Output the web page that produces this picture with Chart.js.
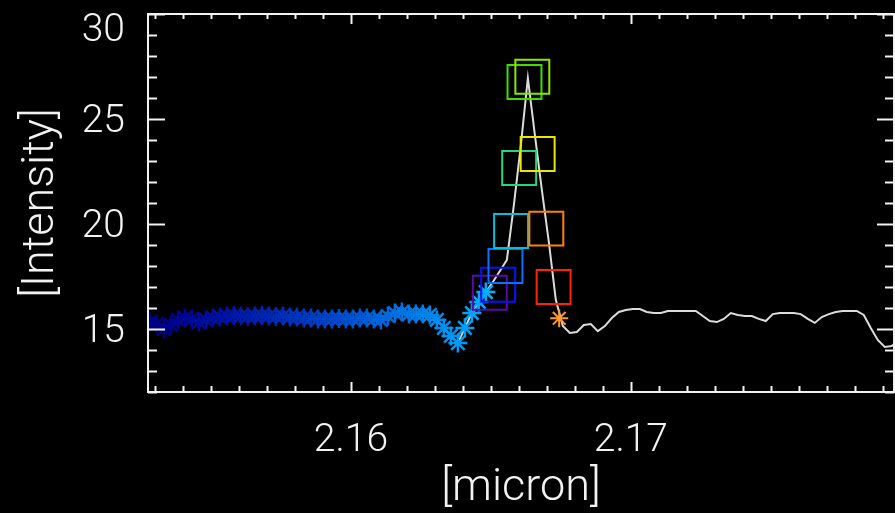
<!DOCTYPE html>
<html>
<head>
<meta charset="utf-8">
<script src="https://cdn.jsdelivr.net/npm/chart.js@4.4.1/dist/chart.umd.min.js"></script>
<style>
  html, body { margin: 0; padding: 0; background: #000; }
  canvas { display: block; }
</style>
</head>
<body>
<canvas id="spec" width="895" height="513"></canvas>
<script>
// spectrum samples
const wavelength = [
  2.15282, 2.15307, 2.15332, 2.15357, 2.15382, 2.15407, 2.15432, 2.15457, 2.15482, 2.15507,
  2.15532, 2.15557, 2.15582, 2.15607, 2.15632, 2.15657, 2.15682, 2.15707, 2.15732, 2.15757,
  2.15782, 2.15807, 2.15832, 2.15857, 2.15882, 2.15907, 2.15932, 2.15957, 2.15982, 2.16007,
  2.16032, 2.16057, 2.16082, 2.16107, 2.16132, 2.16157, 2.16182, 2.16207, 2.16232, 2.16257,
  2.16282, 2.16307, 2.16332, 2.16357, 2.16382, 2.16407, 2.16432, 2.16457, 2.16482, 2.16507,
  2.16532, 2.16557, 2.16582, 2.16607, 2.16632, 2.16657, 2.16682, 2.16707, 2.16732, 2.16757,
  2.16782, 2.16807, 2.16832, 2.16857, 2.16882, 2.16907, 2.16932, 2.16957, 2.16982, 2.17007,
  2.17032, 2.17057, 2.17082, 2.17107, 2.17132, 2.17157, 2.17182, 2.17207, 2.17232, 2.17257,
  2.17282, 2.17307, 2.17332, 2.17357, 2.17382, 2.17407, 2.17432, 2.17457, 2.17482, 2.17507,
  2.17532, 2.17557, 2.17582, 2.17607, 2.17632, 2.17657, 2.17682, 2.17707, 2.17732, 2.17757,
  2.17782, 2.17807, 2.17832, 2.17857, 2.17882, 2.17907, 2.17932, 2.17957
];
const intensity = [
  15.33, 15.24, 15.00, 15.19, 15.43, 15.52, 15.48, 15.33, 15.43, 15.52,
  15.57, 15.62, 15.64, 15.62, 15.60, 15.62, 15.64, 15.62, 15.60, 15.62,
  15.57, 15.57, 15.52, 15.52, 15.48, 15.48, 15.48, 15.50, 15.48, 15.48,
  15.52, 15.52, 15.48, 15.43, 15.62, 15.76, 15.81, 15.71, 15.71, 15.71,
  15.67, 15.43, 15.05, 14.67, 14.33, 15.05, 15.76, 16.29, 16.76, 17.24,
  17.76, 18.29, 20.90, 23.76, 26.95, 24.24, 21.62, 19.14, 16.38, 15.14,
  14.81, 14.86, 15.19, 15.24, 14.90, 15.14, 15.52, 15.81, 15.90, 15.95,
  15.95, 15.81, 15.76, 15.76, 15.86, 15.86, 15.86, 15.86, 15.86, 15.62,
  15.38, 15.33, 15.48, 15.76, 15.67, 15.62, 15.62, 15.48, 15.38, 15.71,
  15.76, 15.76, 15.76, 15.71, 15.48, 15.29, 15.57, 15.71, 15.81, 15.86,
  15.86, 15.86, 15.67, 15.05, 14.48, 14.14, 14.19, 14.48
];
// number of leading samples marked with asterisks (continuum)
const continuumCount = 49;

// line-profile boxes
const boxWavelength = [2.16496, 2.16526, 2.16552, 2.16572, 2.16601, 2.16620, 2.16648, 2.16667, 2.16698, 2.16724];
const boxIntensity  = [16.73, 17.11, 18.00, 19.67, 22.67, 26.76, 27.01, 23.33, 19.78, 17.00];
const boxColors = ['#5a0aa6', '#0a10ff', '#0a70ff', '#00bfe0', '#26d67a', '#40dc00', '#8ce600', '#e8e800', '#ff8200', '#ff2400'];

// red-side continuum marker
const edgeWavelength = [2.16744];
const edgeIntensity  = [15.51];

const xTicks = [2.16, 2.17];
const yTicks = [15, 20, 25, 30];
const xRange = [2.15275, 2.1794];
const yRange = [12, 30];

const tickFont = { family: 'Roboto', size: 39, weight: 300 };
const titleFont = { family: 'Roboto', size: 45, weight: 300 };

function continuumColor(i) {
  const t = i / (continuumCount - 1);
  const g = Math.round(175 * Math.pow(t, 1.5));
  const b = Math.round(135 + 120 * t);
  return 'rgb(0,' + g + ',' + b + ')';
}

const toPoints = (xs, ys) => xs.map((x, i) => ({ x: x, y: ys[i] }));

// box around the plot with inward ticks on all four sides
const framePlugin = {
  id: 'frame',
  afterDatasetsDraw(chart) {
    const { ctx, chartArea: a, scales: { x, y } } = chart;
    ctx.save();
    ctx.strokeStyle = '#f2f2f2';
    ctx.lineWidth = 2;
    ctx.beginPath();
    for (let i = 2153; i <= 2179; i++) {
      const px = Math.round(x.getPixelForValue(i / 1000)) + 0.5;
      const major = i % 10 === 0;
      ctx.moveTo(px, a.bottom);
      ctx.lineTo(px, a.bottom - (major ? 10 : 6));
      ctx.moveTo(px, a.top);
      ctx.lineTo(px, a.top + (major ? 10 : 5));
    }
    for (let v = yRange[0]; v <= yRange[1]; v++) {
      const py = Math.round(y.getPixelForValue(v)) + 0.5;
      const len = v % 5 === 0 ? 17 : 9;
      ctx.moveTo(a.left, py);
      ctx.lineTo(a.left + len, py);
      ctx.moveTo(a.right, py);
      ctx.lineTo(a.right - len, py);
    }
    ctx.stroke();
    ctx.strokeRect(a.left, a.top, a.right - a.left, a.bottom - a.top);
    ctx.restore();
  }
};

new Chart(document.getElementById('spec'), {
  type: 'scatter',
  data: {
    datasets: [
      {
        // colour-coded profile boxes
        data: toPoints(boxWavelength, boxIntensity),
        pointStyle: 'rect',
        pointRadius: 24,
        pointBorderWidth: 2,
        pointBackgroundColor: 'rgba(0,0,0,0)',
        pointBorderColor: boxColors,
        showLine: false,
        order: 0
      },
      {
        data: toPoints(edgeWavelength, edgeIntensity),
        pointStyle: 'star',
        pointRadius: 9,
        pointBorderWidth: 2,
        pointBorderColor: '#ff9a2a',
        showLine: false,
        order: 1
      },
      {
        // the spectrum itself, asterisks on the blue continuum
        data: toPoints(wavelength, intensity),
        showLine: true,
        borderColor: '#dcdcdc',
        borderWidth: 2,
        tension: 0,
        pointStyle: 'star',
        pointRadius: ctx => ctx.dataIndex < continuumCount ? 9.5 : 0,
        pointBorderWidth: 2.5,
        pointBorderColor: ctx => continuumColor(ctx.dataIndex),
        order: 2
      }
    ]
  },
  options: {
    responsive: false,
    animation: false,
    events: [],
    layout: { autoPadding: false, padding: { top: 14, right: 1, left: 0, bottom: 0 } },
    plugins: { legend: { display: false }, tooltip: { enabled: false } },
    scales: {
      x: {
        type: 'linear',
        min: xRange[0],
        max: xRange[1],
        grid: { display: false },
        border: { display: false },
        afterBuildTicks: s => { s.ticks = xTicks.map(v => ({ value: v })); },
        afterFit: s => { s.height = 121; s.paddingLeft = 0; s.paddingRight = 0; },
        ticks: {
          color: '#f2f2f2',
          font: tickFont,
          padding: 18,
          maxRotation: 0,
          callback: v => v.toFixed(2)
        },
        title: {
          display: true,
          text: '[micron]',
          color: '#f2f2f2',
          font: titleFont,
          padding: { top: 0, bottom: -3 }
        }
      },
      y: {
        type: 'linear',
        min: yRange[0],
        max: yRange[1],
        grid: { display: false },
        border: { display: false },
        afterBuildTicks: s => { s.ticks = yTicks.map(v => ({ value: v })); },
        afterFit: s => { s.width = 148; s.paddingTop = 0; s.paddingBottom = 0; },
        ticks: {
          color: '#f2f2f2',
          font: c => ({ family: 'Roboto', size: 39, weight: 300,
                        lineHeight: c.tick && c.tick.value === 30 ? 0.72 : 1.2 }),
          padding: 15,
          labelOffset: 3,
          callback: v => v === 30 ? ['', '30'] : String(v)
        },
        title: {
          display: true,
          text: '[Intensity]',
          color: '#f2f2f2',
          font: titleFont,
          padding: { top: 15, bottom: 0 }
        }
      }
    }
  },
  plugins: [framePlugin]
});
</script>
</body>
</html>
